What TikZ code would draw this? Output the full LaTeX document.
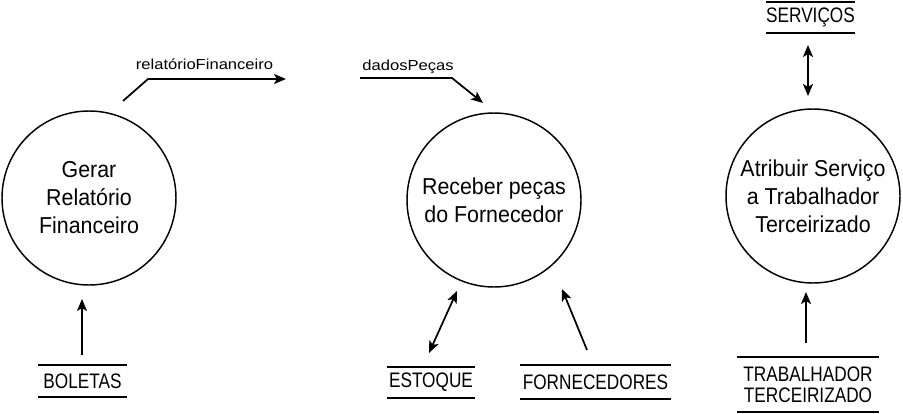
\documentclass[tikz,border=0pt]{standalone}
\usepackage{fontspec}
\setmainfont{Liberation Sans}
\newfontfamily\procfont[FakeStretch=0.93]{Liberation Sans}
\newfontfamily\storefont[FakeStretch=0.82]{Liberation Sans}
\newfontfamily\flowfont[FakeStretch=1.14]{Liberation Sans}
\usetikzlibrary{arrows.meta}
\begin{document}
\begin{tikzpicture}[x=0.75pt, y=-0.75pt,
	process/.style={circle, draw, line width=1.1pt, minimum size=130.5pt, inner sep=0pt, align=center, font=\procfont\fontsize{17.25pt}{21pt}\selectfont},
	store/.style={inner sep=0pt, align=center, font=\storefont\fontsize{15.75pt}{15.75pt}\selectfont},
	storeline/.style={line width=1.7pt},
	flowlabel/.style={anchor=base, inner sep=0pt, font=\flowfont\fontsize{10.9pt}{13pt}\selectfont},
	flow/.style={line width=1.3pt, -{Stealth[length=9pt, width=7.5pt, inset=2.2pt]}},
	dflow/.style={line width=1.3pt, {Stealth[length=9pt, width=7.5pt, inset=2.2pt]}-{Stealth[length=9pt, width=7.5pt, inset=2.2pt]}}]
	\useasboundingbox (0, 0) rectangle (903, 414);

	% processos
	\node[process] (gerar) at (89, 198) {Gerar\\Relatório\\Financeiro};
	\node[process] (receber) at (494, 200) {Receber peças\\do Fornecedor};
	\node[process] (atribuir) at (813, 196) {Atribuir Serviço\\a Trabalhador\\Terceirizado};

	% depositos
	\node[store, minimum width=66.75pt, minimum height=24pt] (boletas) at (82.5, 381) {BOLETAS};
	\node[store, minimum width=66pt, minimum height=23.25pt] (estoque) at (431, 382.5) {ESTOQUE};
	\node[store, minimum width=113.25pt, minimum height=25.5pt] (fornecedores) at (595.5, 382) {FORNECEDORES};
	\node[store, minimum width=65.25pt, minimum height=23.25pt] (servicos) at (810.5, 17.5) {SERVIÇOS};
	\node[store, minimum width=106.5pt, minimum height=41.25pt] (trabalhador) at (808, 384.5) {TRABALHADOR\\TERCEIRIZADO};
	\foreach \s in {boletas, estoque, fornecedores, servicos, trabalhador} {
		\draw[storeline] (\s.north west) -- (\s.north east) (\s.south west) -- (\s.south east);
	}

	% pontas livres dos fluxos
	\coordinate (relA) at (123, 101);
	\coordinate (relB) at (148, 79);
	\coordinate (relC) at (286, 79);
	\coordinate (pecA) at (360, 78);
	\coordinate (pecB) at (452, 78);
	\coordinate (pecC) at (483, 103);
	\coordinate (bolA) at (82, 355);
	\coordinate (bolB) at (82, 299);
	\coordinate (estA) at (429, 353);
	\coordinate (estB) at (457, 291);
	\coordinate (forA) at (587, 350);
	\coordinate (forB) at (562, 289);
	\coordinate (serA) at (808, 45);
	\coordinate (serB) at (808, 96);
	\coordinate (traA) at (806, 343);
	\coordinate (traB) at (806, 292);

	% fluxos
	\draw[flow] (relA) -- (relB) -- (relC);
	\node[flowlabel] (relLabel) at (204.5, 69) {relatórioFinanceiro};
	\draw[flow] (pecA) -- (pecB) -- (pecC);
	\node[flowlabel] (pecLabel) at (408, 70) {dadosPeças};
	\draw[flow] (bolA) -- (bolB);
	\draw[dflow] (estA) -- (estB);
	\draw[flow] (forA) -- (forB);
	\draw[dflow] (serA) -- (serB);
	\draw[flow] (traA) -- (traB);
\end{tikzpicture}
\end{document}
